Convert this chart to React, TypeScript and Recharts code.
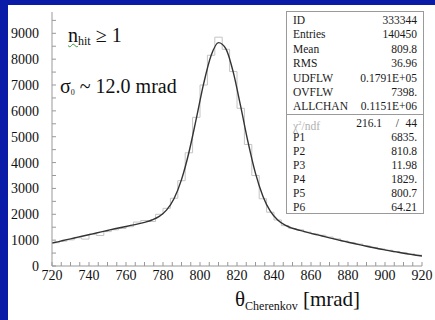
import React from 'react';
import { LineChart, Line, XAxis, YAxis } from 'recharts';

// histogram: 4 mrad bins, left edges
const binEdges = [
  720, 724, 728, 732, 736, 740, 744, 748, 752, 756,
  760, 764, 768, 772, 776, 780, 784, 788, 792, 796,
  800, 804, 808, 812, 816, 820, 824, 828, 832, 836,
  840, 844, 848, 852, 856, 860, 864, 868, 872, 876,
  880, 884, 888, 892, 896, 900, 904, 908, 912, 916,
];
const binCounts = [
  900, 960, 1010, 1090, 1040, 1230, 1180, 1330, 1400, 1450,
  1520, 1700, 1760, 1720, 2000, 2230, 2620, 3300, 4380, 5750,
  7000, 8150, 8850, 8380, 7520, 6100, 4700, 3500, 2600, 2080,
  1780, 1560, 1450, 1400, 1310, 1240, 1190, 1120, 1050, 970,
  900, 850, 780, 720, 660, 610, 560, 520, 470, 420,
];
const lastEdge = 920;

// fitted curve, read at bin centres
const fitX = [
  720, 722, 726, 730, 734, 738, 742, 746, 750, 754, 758,
  762, 766, 770, 774, 778, 782, 786, 790, 794, 798,
  802, 806, 810, 814, 818, 822, 826, 830, 834, 838,
  842, 846, 850, 854, 858, 862, 866, 870, 874, 878,
  882, 886, 890, 894, 898, 902, 906, 910, 914, 918, 920,
];
const fitY = [
  890, 920, 985, 1050, 1115, 1180, 1245, 1310, 1375, 1440, 1500,
  1560, 1620, 1690, 1780, 1920, 2170, 2610, 3340, 4390, 5700,
  7060, 8140, 8640, 8400, 7490, 6170, 4780, 3580, 2700, 2120,
  1780, 1580, 1460, 1375, 1300, 1230, 1160, 1090, 1020, 955,
  890, 825, 765, 705, 650, 595, 545, 495, 450, 405, 385,
];

// every 5 mrad gets a tick mark, every 20 a label
const xTicks = [
  720, 725, 730, 735, 740, 745, 750, 755, 760, 765, 770, 775, 780, 785,
  790, 795, 800, 805, 810, 815, 820, 825, 830, 835, 840, 845, 850, 855,
  860, 865, 870, 875, 880, 885, 890, 895, 900, 905, 910, 915, 920,
];
const yTicks = [
  0, 500, 1000, 1500, 2000, 2500, 3000, 3500, 4000, 4500,
  5000, 5500, 6000, 6500, 7000, 7500, 8000, 8500, 9000, 9500,
];

const statLabels = ['ID', 'Entries', 'Mean', 'RMS', 'UDFLW', 'OVFLW', 'ALLCHAN'];
const statValues = ['333344', '140450', '809.8', '36.96', '0.1791E+05', '7398.', '0.1151E+06'];
const parLabels = ['P1', 'P2', 'P3', 'P4', 'P5', 'P6'];
const parValues = ['6835.', '810.8', '11.98', '1829.', '800.7', '64.21'];
const chi2 = '216.1';
const ndf = '44';

const histData = binEdges
  .map((x, i) => ({ x, y: binCounts[i] }))
  .concat([{ x: lastEdge, y: binCounts[binCounts.length - 1] }]);
const fitData = fitX.map((x, i) => ({ x, y: fitY[i] }));

const serif = '"Liberation Serif", "Times New Roman", serif';
const xDomain: [number, number] = [720, 920];
const yDomain: [number, number] = [0, 9824];

const StatsBox = () => (
  <div
    style={{
      position: 'absolute', left: 286, top: 11, width: 138, height: 203,
      border: '1px solid #9a9a9a', background: '#fff', boxSizing: 'border-box',
      fontFamily: serif, fontSize: 11.5, color: '#1a1a1a',
    }}
  >
    <div style={{ padding: '1px 6px 0 6px', borderBottom: '1px solid #9a9a9a' }}>
      {statLabels.map((l, i) => (
        <div key={l} style={{ display: 'flex', justifyContent: 'space-between', height: 14.4, lineHeight: '14.4px' }}>
          <span>{l}</span>
          <span>{statValues[i]}</span>
        </div>
      ))}
    </div>
    <div style={{ padding: '1px 6px 0 6px' }}>
      <div style={{ position: 'relative', height: 14, lineHeight: '14px' }}>
        <span style={{ color: '#b0b0b0' }}>
          χ<sup style={{ fontSize: 7 }}>2</sup>/ndf
        </span>
        <span style={{ position: 'absolute', right: 35 }}>{chi2}</span>
        <span style={{ position: 'absolute', right: 18 }}>/</span>
        <span style={{ position: 'absolute', right: 0 }}>{ndf}</span>
      </div>
      {parLabels.map((l, i) => (
        <div key={l} style={{ display: 'flex', justifyContent: 'space-between', height: 14, lineHeight: '14px' }}>
          <span>{l}</span>
          <span>{parValues[i]}</span>
        </div>
      ))}
    </div>
  </div>
);

export default function App() {
  const tickFont = { fill: '#111', fontSize: 14, fontFamily: serif };
  return (
    <div style={{ position: 'absolute', left: 0, top: 0, width: 435, height: 320, background: '#0a1ba8', overflow: 'hidden' }}>
      <div style={{ position: 'absolute', left: 8, top: 5, right: 0, bottom: 0, background: '#fff' }} />
      <div style={{ position: 'absolute', left: 0, top: 0 }}>
        <LineChart width={435} height={320} margin={{ top: 12, right: 13, bottom: 24, left: 0 }}>
          {/* negative tickSize turns the tick marks inward, as in the PAW frame */}
          <XAxis
            xAxisId="main" dataKey="x" type="number" domain={xDomain} ticks={xTicks}
            height={30} interval={0} tickSize={-4} tickMargin={8}
            tickFormatter={(v: number) => (v % 20 === 0 ? String(v) : '')}
            tickLine={{ stroke: '#999' }} axisLine={{ stroke: '#999' }} tick={tickFont} allowDataOverflow
          />
          <XAxis
            xAxisId="top" dataKey="x" type="number" domain={xDomain} orientation="top"
            height={0} tick={false} tickLine={false} axisLine={{ stroke: '#b5b5b5' }} allowDataOverflow
          />
          <YAxis
            yAxisId="main" type="number" domain={yDomain} ticks={yTicks} width={52}
            interval={0} tickSize={-4} tickMargin={17}
            tickFormatter={(v: number) => (v % 1000 === 0 ? String(v) : '')}
            tickLine={{ stroke: '#999' }} axisLine={{ stroke: '#999' }} tick={tickFont} allowDataOverflow
          />
          <YAxis
            yAxisId="right" type="number" domain={yDomain} orientation="right" width={0}
            tick={false} tickLine={false} axisLine={{ stroke: '#b5b5b5' }} allowDataOverflow
          />
          <Line
            xAxisId="main" yAxisId="main" data={histData} dataKey="y" type="stepAfter"
            stroke="#c4c4c4" strokeWidth={1} dot={false} isAnimationActive={false}
          />
          <Line
            xAxisId="main" yAxisId="main" data={fitData} dataKey="y" type="monotone"
            stroke="#333" strokeWidth={1.4} dot={false} isAnimationActive={false}
          />
        </LineChart>
      </div>
      <div style={{ position: 'absolute', left: 68, top: 25, fontFamily: serif, fontSize: 20, lineHeight: '20px', color: '#111', whiteSpace: 'nowrap' }}>
        <span style={{ textDecoration: 'underline wavy #3c9a3c', textDecorationThickness: 1 }}>
          n<sub style={{ fontSize: 12, verticalAlign: -3 }}>hit</sub>
        </span>{' '}≥ 1
      </div>
      <div style={{ position: 'absolute', left: 60, top: 76, fontFamily: serif, fontSize: 20, lineHeight: '20px', color: '#111', whiteSpace: 'nowrap' }}>
        σ<sub style={{ fontSize: 8, verticalAlign: -2 }}>0</sub> ~ 12.0 mrad
      </div>
      <div style={{ position: 'absolute', left: 235, top: 289, fontFamily: serif, fontSize: 21, lineHeight: '21px', color: '#111', whiteSpace: 'nowrap' }}>
        θ<sub style={{ fontSize: 12, verticalAlign: -4 }}>Cherenkov</sub> [mrad]
      </div>
      <StatsBox />
    </div>
  );
}
